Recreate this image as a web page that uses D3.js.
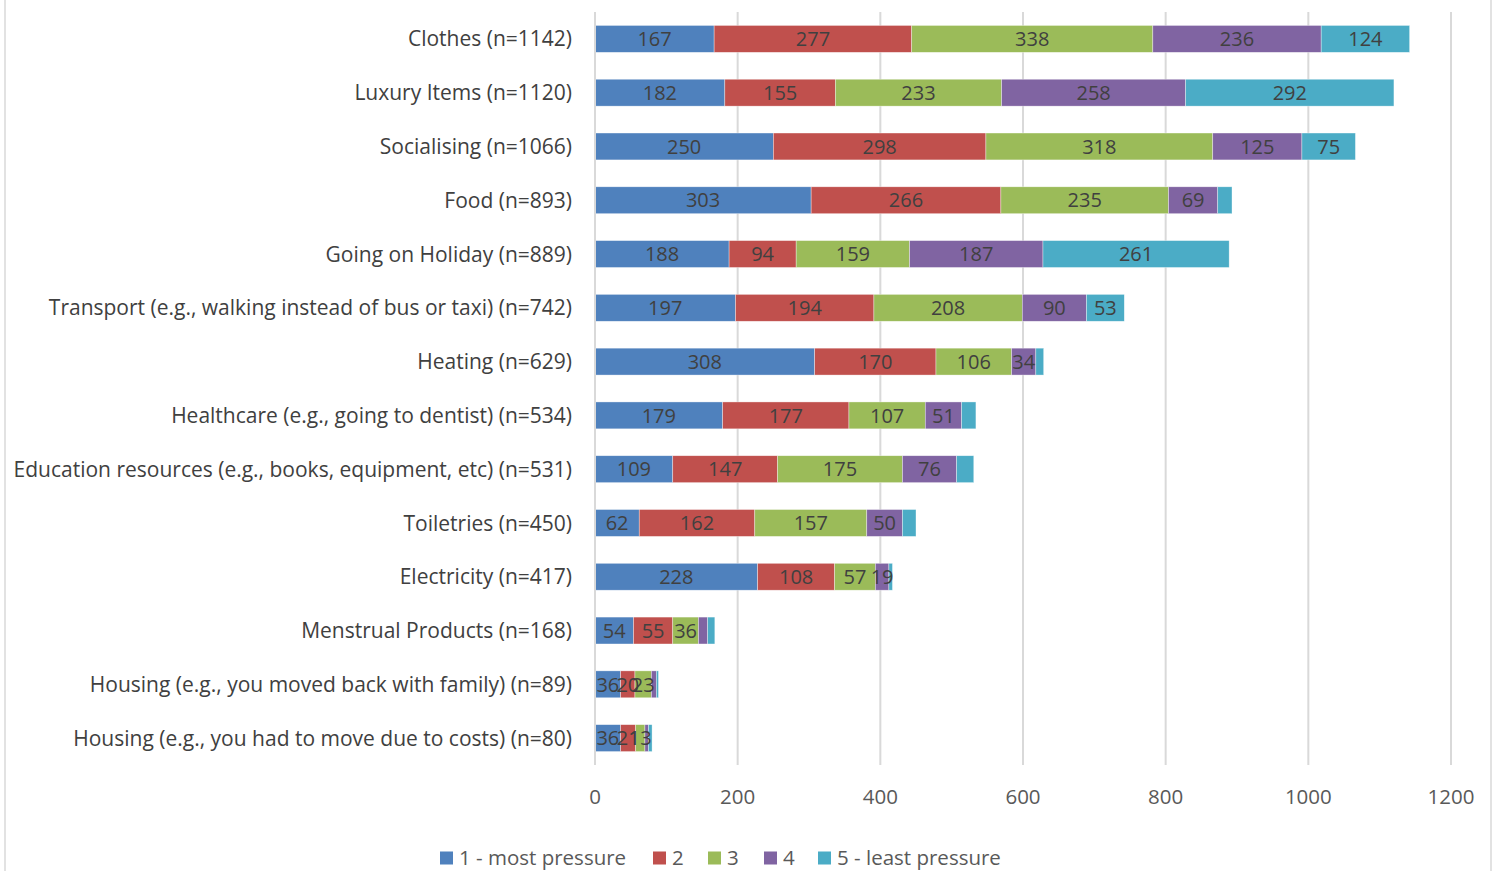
<!DOCTYPE html>
<html>
<head>
<meta charset="utf-8">
<script src="https://cdn.jsdelivr.net/npm/d3@7"></script>
<style>
  html, body { margin: 0; padding: 0; background: #fff; }
  svg text { font-family: "Open Sans", "Noto Sans", sans-serif; }
</style>
</head>
<body>
<div id="chart"></div>
<script>
(function(){

    // categories top -> bottom
    var categories = [
        "Clothes (n=1142)",
        "Luxury Items (n=1120)",
        "Socialising (n=1066)",
        "Food (n=893)",
        "Going on Holiday (n=889)",
        "Transport (e.g., walking instead of bus or taxi) (n=742)",
        "Heating (n=629)",
        "Healthcare (e.g., going to dentist) (n=534)",
        "Education resources (e.g., books, equipment, etc) (n=531)",
        "Toiletries (n=450)",
        "Electricity (n=417)",
        "Menstrual Products (n=168)",
        "Housing (e.g., you moved back with family) (n=89)",
        "Housing (e.g., you had to move due to costs) (n=80)"
    ];

    var seriesNames = ["1 - most pressure", "2", "3", "4", "5 - least pressure"];

    var most     = [167, 182, 250, 303, 188, 197, 308, 179, 109, 62, 228, 54, 36, 36];
    var rank2    = [277, 155, 298, 266, 94, 194, 170, 177, 147, 162, 108, 55, 20, 21];
    var rank3    = [338, 233, 318, 235, 159, 208, 106, 107, 175, 157, 57, 36, 23, 13];
    var rank4    = [236, 258, 125, 69, 187, 90, 34, 51, 76, 50, 19, 13, 7, 5];
    var least    = [124, 292, 75, 20, 261, 53, 11, 20, 24, 19, 5, 10, 3, 5];

    var xTicks = [0, 200, 400, 600, 800, 1000, 1200];

    var colors = ["#4F81BD", "#C0504D", "#9BBB59", "#8064A2", "#4BACC6"];

    var W = 1494, H = 871;
    var margin = {top: 12, left: 595, right: 43, bottom: 106};

    var svg = d3.select("#chart")
        .append("svg")
        .attr("width", W)
        .attr("height", H);

    /* 外框 */
    svg.append("line")
        .attr("x1", 5).attr("x2", 5).attr("y1", 0).attr("y2", H)
        .style("stroke", "#d9d9d9").style("stroke-width", 1.5);
    svg.append("line")
        .attr("x1", 1491).attr("x2", 1491).attr("y1", 0).attr("y2", H)
        .style("stroke", "#d9d9d9").style("stroke-width", 1.5);

    var x = d3.scaleLinear()
        .domain([0, 1200])
        .range([margin.left, W - margin.right]);

    var y = d3.scaleBand()
        .domain(categories)
        .range([margin.top, H - margin.bottom])
        .paddingInner(0.5)
        .paddingOuter(0.25);

    var data = categories.map(function(c, i){
        return {cat: c, values: [most[i], rank2[i], rank3[i], rank4[i], least[i]]};
    });

    var stack = d3.stack()
        .keys([0, 1, 2, 3, 4])
        .value(function(d, k){ return d.values[k]; });
    var layers = stack(data);

    /* 网格线 */
    svg.append("g")
        .selectAll("line")
        .data(xTicks.slice(1))
        .enter()
        .append("line")
        .attr("x1", function(d){ return x(d); })
        .attr("x2", function(d){ return x(d); })
        .attr("y1", margin.top)
        .attr("y2", H - margin.bottom)
        .style("stroke", "#d9d9d9")
        .style("stroke-width", 2);

    /* 柱子 */
    var g = svg.selectAll("g.layer")
        .data(layers)
        .enter()
        .append("g")
        .attr("class", "layer")
        .style("fill", function(d, i){ return colors[i]; });

    g.selectAll("rect")
        .data(function(d){ return d; })
        .enter()
        .append("rect")
        .attr("x", function(d){ return x(d[0]); })
        .attr("width", function(d){ return x(d[1]) - x(d[0]); })
        .attr("y", function(d){ return y(d.data.cat); })
        .attr("height", y.bandwidth())
        .style("stroke", "#ffffff")
        .style("stroke-width", 0.6)
        .style("stroke-opacity", 0.6);

    /* 数值标签 (the smallest segments of series 4 and 5 carry no label) */
    var minLabel = [1, 1, 1, 19, 50];

    /* y 轴线 */
    svg.append("line")
        .attr("x1", x(0)).attr("x2", x(0))
        .attr("y1", margin.top).attr("y2", H - margin.bottom)
        .style("stroke", "#d9d9d9")
        .style("stroke-width", 2);

    var labels = svg.append("g");
    layers.forEach(function(layer){
        labels.selectAll(null)
            .data(layer.filter(function(d){ return d[1] - d[0] >= minLabel[layer.key]; }))
            .enter()
            .append("text")
            .attr("x", function(d){ return (x(d[0]) + x(d[1])) / 2; })
            .attr("y", function(d){ return y(d.data.cat) + y.bandwidth() / 2; })
            .attr("dy", "0.36em")
            .attr("text-anchor", "middle")
            .text(function(d){ return d[1] - d[0]; })
            .style("fill", "#404040")
            .style("font-size", "20px");
    });

    /* 类别标签 */
    svg.append("g")
        .selectAll("text")
        .data(categories)
        .enter()
        .append("text")
        .attr("x", margin.left - 23)
        .attr("y", function(d){ return y(d) + y.bandwidth() / 2; })
        .attr("dy", "0.36em")
        .attr("text-anchor", "end")
        .text(function(d){ return d; })
        .style("fill", "#404040")
        .style("font-size", "21px");

    /* x 轴刻度 */
    svg.append("g")
        .selectAll("text")
        .data(xTicks)
        .enter()
        .append("text")
        .attr("x", function(d){ return x(d); })
        .attr("y", 797)
        .attr("dy", "0.36em")
        .attr("text-anchor", "middle")
        .text(function(d){ return d; })
        .style("fill", "#595959")
        .style("font-size", "20.5px");

    /* 图例 */
    var legendX = [440, 653, 708, 764, 818];
    var lg = svg.append("g")
        .selectAll("g")
        .data(seriesNames)
        .enter()
        .append("g")
        .attr("transform", function(d, i){ return "translate(" + legendX[i] + ",858)"; });
    lg.append("rect")
        .attr("x", 0).attr("y", -6.5)
        .attr("width", 13).attr("height", 13)
        .style("fill", function(d, i){ return colors[i]; });
    lg.append("text")
        .attr("x", 19)
        .attr("dy", "0.36em")
        .text(function(d){ return d; })
        .style("fill", "#595959")
        .style("font-size", "20.5px");

})();
</script>
</body>
</html>
